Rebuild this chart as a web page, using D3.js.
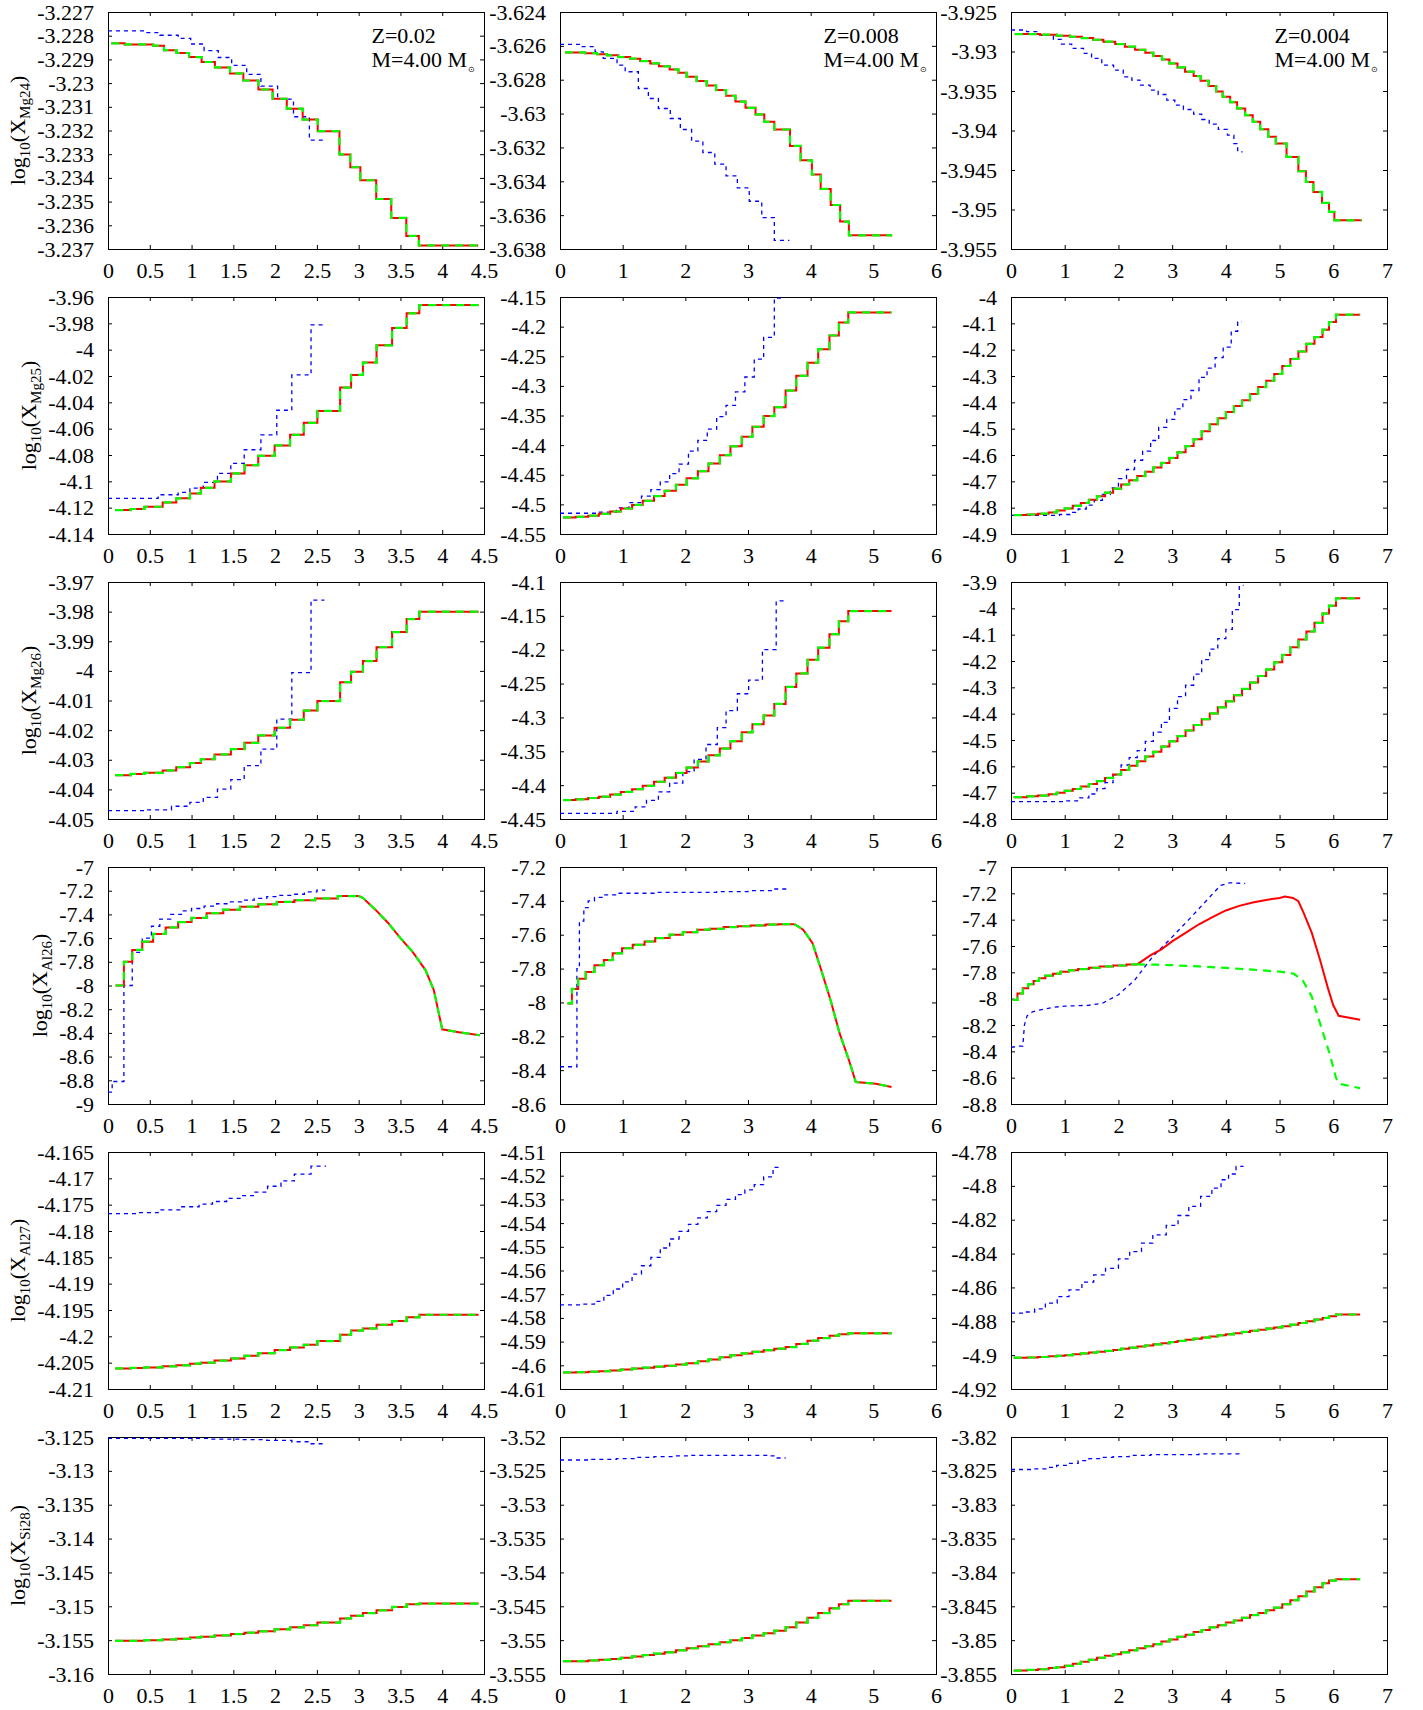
<!DOCTYPE html>
<html>
<head>
<meta charset="utf-8">
<script src="https://d3js.org/d3.v7.min.js"></script>
<style>
body { margin: 0; background: #fff; }
svg { display: block; background: #fff; }
</style>
</head>
<body>
<svg id="chart" width="1423" height="1710"></svg>
<script>
var FONT = "'Liberation Serif', 'Times New Roman', serif";

// ---- axis ticks ----
var xTicksZ02 = [0, 0.5, 1, 1.5, 2, 2.5, 3, 3.5, 4, 4.5];
var xTicksZ008 = [0, 1, 2, 3, 4, 5, 6];
var xTicksZ004 = [0, 1, 2, 3, 4, 5, 6, 7];

var yMg24Z02 = [-3.237, -3.236, -3.235, -3.234, -3.233, -3.232, -3.231, -3.23, -3.229, -3.228, -3.227];
var yMg24Z008 = [-3.638, -3.636, -3.634, -3.632, -3.63, -3.628, -3.626, -3.624];
var yMg24Z004 = [-3.955, -3.95, -3.945, -3.94, -3.935, -3.93, -3.925];
var yMg25Z02 = [-4.14, -4.12, -4.1, -4.08, -4.06, -4.04, -4.02, -4, -3.98, -3.96];
var yMg25Z008 = [-4.55, -4.5, -4.45, -4.4, -4.35, -4.3, -4.25, -4.2, -4.15];
var yMg25Z004 = [-4.9, -4.8, -4.7, -4.6, -4.5, -4.4, -4.3, -4.2, -4.1, -4];
var yMg26Z02 = [-4.05, -4.04, -4.03, -4.02, -4.01, -4, -3.99, -3.98, -3.97];
var yMg26Z008 = [-4.45, -4.4, -4.35, -4.3, -4.25, -4.2, -4.15, -4.1];
var yMg26Z004 = [-4.8, -4.7, -4.6, -4.5, -4.4, -4.3, -4.2, -4.1, -4, -3.9];
var yAl26Z02 = [-9, -8.8, -8.6, -8.4, -8.2, -8, -7.8, -7.6, -7.4, -7.2, -7];
var yAl26Z008 = [-8.6, -8.4, -8.2, -8, -7.8, -7.6, -7.4, -7.2];
var yAl26Z004 = [-8.8, -8.6, -8.4, -8.2, -8, -7.8, -7.6, -7.4, -7.2, -7];
var yAl27Z02 = [-4.21, -4.205, -4.2, -4.195, -4.19, -4.185, -4.18, -4.175, -4.17, -4.165];
var yAl27Z008 = [-4.61, -4.6, -4.59, -4.58, -4.57, -4.56, -4.55, -4.54, -4.53, -4.52, -4.51];
var yAl27Z004 = [-4.92, -4.9, -4.88, -4.86, -4.84, -4.82, -4.8, -4.78];
var ySi28Z02 = [-3.16, -3.155, -3.15, -3.145, -3.14, -3.135, -3.13, -3.125];
var ySi28Z008 = [-3.555, -3.55, -3.545, -3.54, -3.535, -3.53, -3.525, -3.52];
var ySi28Z004 = [-3.855, -3.85, -3.845, -3.84, -3.835, -3.83, -3.825, -3.82];

var species = ["Mg24", "Mg25", "Mg26", "Al26", "Al27", "Si28"];
var metallicity = ["Z=0.02", "Z=0.008", "Z=0.004"];
var massLabel = "M=4.00 M";

// ---- step times shared by rows 2,3,5,6 ----
var tZ02 = [0.087, 0.272, 0.436, 0.654, 0.817, 0.981, 1.111, 1.275, 1.471, 1.634, 1.798, 1.994, 2.179, 2.343, 2.506, 2.778, 2.909, 3.051, 3.214, 3.400, 3.574, 3.726];
var endZ02 = 4.435;
var tZ008 = [0.05, 0.25, 0.45, 0.62, 0.8, 0.97, 1.15, 1.32, 1.5, 1.67, 1.85, 2.02, 2.2, 2.37, 2.55, 2.72, 2.9, 3.07, 3.25, 3.42, 3.6, 3.77, 3.95, 4.12, 4.3, 4.45, 4.6];
var endZ008 = 5.29;
var tZ004 = [0.05, 0.3, 0.5, 0.7, 0.85, 1.0, 1.15, 1.3, 1.45, 1.6, 1.75, 1.9, 2.05, 2.2, 2.35, 2.5, 2.65, 2.8, 2.95, 3.1, 3.25, 3.4, 3.55, 3.7, 3.85, 4.0, 4.15, 4.3, 4.45, 4.6, 4.75, 4.9, 5.05, 5.2, 5.35, 5.5, 5.65, 5.8, 5.92, 6.05];
var endZ004 = 6.5;

// ---- Mg24 ----
var mg24Z02Red = [[0.04,-3.22832],[0.20,-3.22837],[0.54,-3.22842],[0.67,-3.22861],[0.82,-3.22873],[0.97,-3.22890],[1.12,-3.22911],[1.28,-3.22934],[1.46,-3.22959],[1.62,-3.22989],[1.80,-3.23027],[1.97,-3.23066],[2.14,-3.23108],[2.33,-3.23154],[2.51,-3.23203],[2.77,-3.23301],[2.90,-3.23355],[3.02,-3.23410],[3.21,-3.23489],[3.39,-3.23569],[3.57,-3.23645],[3.72,-3.23685],[4.43,-3.23685]];
var mg24Z02Blue = [[0,-3.22780],[0.45,-3.22787],[0.62,-3.22798],[0.84,-3.22811],[0.99,-3.22835],[1.15,-3.22863],[1.32,-3.22892],[1.48,-3.22925],[1.66,-3.22963],[1.83,-3.23013],[2.03,-3.23068],[2.22,-3.23142],[2.41,-3.23241],[2.60,-3.23241]];
var mg24Z008Red = [[0.08,-3.62639],[0.40,-3.62643],[0.59,-3.62649],[0.75,-3.62656],[0.93,-3.62666],[1.12,-3.62676],[1.28,-3.62690],[1.44,-3.62704],[1.58,-3.62721],[1.75,-3.62739],[1.89,-3.62759],[2.02,-3.62783],[2.18,-3.62808],[2.34,-3.62834],[2.49,-3.62861],[2.65,-3.62895],[2.80,-3.62929],[2.96,-3.62966],[3.12,-3.63005],[3.26,-3.63049],[3.42,-3.63094],[3.67,-3.63191],[3.84,-3.63276],[4.02,-3.63360],[4.16,-3.63445],[4.32,-3.63540],[4.47,-3.63638],[4.61,-3.63719],[5.30,-3.63719]];
var mg24Z008Blue = [[0,-3.62591],[0.32,-3.62605],[0.56,-3.62635],[0.69,-3.62674],[0.91,-3.62714],[1.04,-3.62753],[1.25,-3.62852],[1.41,-3.62911],[1.57,-3.62970],[1.76,-3.63029],[1.92,-3.63094],[2.10,-3.63163],[2.28,-3.63230],[2.47,-3.63299],[2.65,-3.63368],[2.83,-3.63439],[3.02,-3.63518],[3.22,-3.63615],[3.42,-3.63749],[3.66,-3.63749]];
var mg24Z004Red = [[0.07,-3.92779],[0.54,-3.92787],[0.85,-3.92800],[1.10,-3.92813],[1.32,-3.92830],[1.53,-3.92851],[1.72,-3.92876],[1.94,-3.92906],[2.12,-3.92939],[2.31,-3.92978],[2.50,-3.93016],[2.65,-3.93058],[2.81,-3.93100],[2.95,-3.93151],[3.10,-3.93201],[3.24,-3.93256],[3.40,-3.93311],[3.53,-3.93370],[3.68,-3.93438],[3.82,-3.93506],[3.94,-3.93573],[4.08,-3.93641],[4.21,-3.93721],[4.36,-3.93806],[4.50,-3.93890],[4.64,-3.93983],[4.79,-3.94080],[4.93,-3.94165],[5.13,-3.94334],[5.35,-3.94516],[5.49,-3.94651],[5.63,-3.94778],[5.79,-3.94917],[5.92,-3.95031],[6.02,-3.95137],[6.53,-3.95137]];
var mg24Z004Blue = [[0,-3.92728],[0.29,-3.92749],[0.54,-3.92792],[0.79,-3.92847],[0.94,-3.92906],[1.13,-3.92961],[1.35,-3.93024],[1.50,-3.93087],[1.69,-3.93172],[1.91,-3.93235],[2.09,-3.93320],[2.25,-3.93362],[2.40,-3.93425],[2.59,-3.93489],[2.74,-3.93544],[2.90,-3.93616],[3.05,-3.93679],[3.21,-3.93734],[3.40,-3.93793],[3.55,-3.93861],[3.69,-3.93920],[3.86,-3.93987],[4.03,-3.94059],[4.15,-3.94165],[4.22,-3.94270],[4.31,-3.94270]];

// ---- Mg25 ----
var mg25Z02Red = [-4.1218, -4.1210, -4.1193, -4.1160, -4.1129, -4.1092, -4.1049, -4.1001, -4.0940, -4.0877, -4.0806, -4.0727, -4.0647, -4.0556, -4.0465, -4.0288, -4.0192, -4.0098, -3.9967, -3.9835, -3.9724, -3.9661];
var mg25Z02Blue = [[0,-4.1129],[0.60,-4.1102],[0.84,-4.1084],[0.98,-4.1051],[1.14,-4.1008],[1.31,-4.0940],[1.47,-4.0864],[1.63,-4.0760],[1.83,-4.0647],[2.02,-4.0460],[2.20,-4.0192],[2.43,-3.9812],[2.61,-3.9812]];
var mg25Z008Red = [-4.522, -4.521, -4.519, -4.516, -4.512, -4.507, -4.501, -4.494, -4.486, -4.477, -4.467, -4.456, -4.444, -4.431, -4.417, -4.402, -4.386, -4.369, -4.351, -4.336, -4.308, -4.283, -4.261, -4.238, -4.215, -4.193, -4.176];
var mg25Z008Blue = [[0,-4.515],[0.6,-4.513],[0.9,-4.506],[1.1,-4.497],[1.3,-4.486],[1.45,-4.475],[1.6,-4.462],[1.75,-4.448],[1.9,-4.432],[2.05,-4.410],[2.2,-4.392],[2.35,-4.373],[2.5,-4.352],[2.65,-4.333],[2.8,-4.310],[2.95,-4.285],[3.1,-4.255],[3.25,-4.218],[3.42,-4.152],[3.55,-4.152]];
var mg25Z004Red = [-4.828, -4.826, -4.823, -4.818, -4.811, -4.803, -4.793, -4.782, -4.770, -4.757, -4.743, -4.728, -4.712, -4.696, -4.680, -4.664, -4.647, -4.630, -4.611, -4.590, -4.566, -4.540, -4.510, -4.483, -4.460, -4.437, -4.414, -4.392, -4.368, -4.342, -4.318, -4.292, -4.262, -4.235, -4.207, -4.178, -4.152, -4.124, -4.095, -4.067];
var mg25Z004Blue = [[0,-4.829],[0.9,-4.826],[1.1,-4.818],[1.25,-4.805],[1.4,-4.790],[1.55,-4.772],[1.7,-4.750],[1.85,-4.725],[2.0,-4.690],[2.15,-4.655],[2.3,-4.620],[2.45,-4.585],[2.6,-4.545],[2.75,-4.495],[2.9,-4.465],[3.05,-4.425],[3.2,-4.390],[3.35,-4.355],[3.5,-4.305],[3.65,-4.270],[3.8,-4.230],[3.95,-4.190],[4.1,-4.130],[4.22,-4.095],[4.3,-4.095]];

// ---- Mg26 ----
var mg26Z02Red = [-4.0352, -4.0348, -4.0344, -4.0336, -4.0325, -4.0311, -4.0298, -4.0282, -4.0264, -4.0243, -4.0218, -4.0192, -4.0165, -4.0134, -4.0102, -4.0038, -4.0003, -3.9967, -3.9920, -3.9869, -3.9825, -3.9800];
var mg26Z02Blue = [[0,-4.0472],[0.45,-4.0469],[0.76,-4.0457],[0.98,-4.0444],[1.14,-4.0427],[1.31,-4.0399],[1.47,-4.0367],[1.63,-4.0320],[1.83,-4.0264],[2.02,-4.0163],[2.20,-4.0006],[2.43,-3.9761],[2.59,-3.9761]];
var mg26Z008Red = [-4.422, -4.421, -4.419, -4.417, -4.414, -4.410, -4.406, -4.401, -4.395, -4.389, -4.382, -4.374, -4.365, -4.356, -4.346, -4.335, -4.322, -4.310, -4.297, -4.280, -4.255, -4.235, -4.215, -4.197, -4.177, -4.158, -4.143];
var mg26Z008Blue = [[0,-4.4417],[0.91,-4.4388],[1.20,-4.4320],[1.38,-4.4225],[1.57,-4.4100],[1.75,-4.3970],[1.96,-4.3800],[2.14,-4.3620],[2.33,-4.3400],[2.51,-4.3150],[2.65,-4.2900],[2.83,-4.2650],[3.01,-4.2450],[3.23,-4.2000],[3.45,-4.1280],[3.62,-4.1280]];
var mg26Z004Red = [-4.717, -4.714, -4.711, -4.706, -4.700, -4.693, -4.686, -4.677, -4.667, -4.656, -4.644, -4.631, -4.614, -4.598, -4.581, -4.563, -4.545, -4.525, -4.505, -4.485, -4.464, -4.443, -4.421, -4.399, -4.376, -4.353, -4.330, -4.306, -4.282, -4.257, -4.232, -4.205, -4.177, -4.148, -4.118, -4.088, -4.055, -4.020, -3.990, -3.962];
var mg26Z004Blue = [[0,-4.734],[1.0,-4.731],[1.28,-4.720],[1.45,-4.705],[1.6,-4.685],[1.75,-4.662],[1.9,-4.632],[2.05,-4.595],[2.2,-4.567],[2.35,-4.540],[2.5,-4.505],[2.65,-4.470],[2.8,-4.433],[2.95,-4.380],[3.1,-4.335],[3.25,-4.292],[3.4,-4.250],[3.55,-4.195],[3.7,-4.155],[3.85,-4.115],[4.0,-4.080],[4.12,-4.005],[4.25,-3.913],[4.33,-3.913]];

// ---- Al26 ----
var al26Z02RedSteps = [[0.09,-8.0],[0.19,-7.8],[0.29,-7.70],[0.41,-7.63],[0.54,-7.565],[0.69,-7.51],[0.84,-7.465],[1.00,-7.43],[1.18,-7.39],[1.38,-7.36],[1.58,-7.335],[1.80,-7.315],[2.02,-7.295],[2.23,-7.28],[2.48,-7.265],[2.75,-7.245],[3.0,-7.245]];
var al26Z02RedTail = [[3.0,-7.245],[3.05,-7.26],[3.2,-7.36],[3.35,-7.47],[3.5,-7.6],[3.65,-7.72],[3.8,-7.87],[3.9,-8.04],[4.0,-8.37],[4.2,-8.395],[4.45,-8.42]];
var al26Z02Blue = [[0,-8.9],[0.05,-8.81],[0.19,-8.0],[0.29,-7.72],[0.41,-7.6],[0.52,-7.5],[0.62,-7.44],[0.75,-7.40],[0.88,-7.37],[1.0,-7.35],[1.15,-7.33],[1.3,-7.31],[1.45,-7.295],[1.6,-7.28],[1.75,-7.265],[1.9,-7.25],[2.05,-7.24],[2.2,-7.23],[2.35,-7.21],[2.5,-7.195],[2.6,-7.195]];
var al26Z008RedSteps = [[0.12,-8.006],[0.19,-7.92],[0.29,-7.86],[0.41,-7.82],[0.55,-7.78],[0.70,-7.75],[0.84,-7.71],[0.99,-7.68],[1.16,-7.66],[1.35,-7.64],[1.52,-7.62],[1.75,-7.60],[1.96,-7.585],[2.19,-7.57],[2.39,-7.565],[2.61,-7.555],[2.83,-7.55],[3.04,-7.545],[3.28,-7.54],[3.49,-7.538],[3.74,-7.538]];
var al26Z008RedTail = [[3.74,-7.538],[3.88,-7.57],[4.03,-7.65],[4.17,-7.81],[4.32,-7.99],[4.46,-8.18],[4.61,-8.34],[4.72,-8.47],[5.04,-8.48],[5.29,-8.50]];
var al26Z008Blue = [[0,-8.38],[0.27,-7.80],[0.31,-7.52],[0.38,-7.44],[0.45,-7.40],[0.55,-7.38],[0.7,-7.365],[0.9,-7.355],[1.5,-7.35],[2.5,-7.345],[3.0,-7.34],[3.4,-7.33],[3.62,-7.33]];
var al26Z004RedSteps = [[0.03,-8.01],[0.12,-7.96],[0.22,-7.92],[0.32,-7.89],[0.42,-7.865],[0.52,-7.845],[0.64,-7.825],[0.78,-7.81],[0.92,-7.795],[1.08,-7.785],[1.25,-7.775],[1.45,-7.765],[1.65,-7.755],[1.9,-7.748],[2.15,-7.74],[2.35,-7.74]];
var al26Z004RedTail = [[2.35,-7.74],[2.6,-7.67],[2.8,-7.625],[3.0,-7.565],[3.25,-7.50],[3.5,-7.435],[3.75,-7.38],[4.0,-7.33],[4.25,-7.295],[4.5,-7.27],[4.75,-7.25],[5.0,-7.235],[5.1,-7.225],[5.25,-7.235],[5.35,-7.26],[5.45,-7.35],[5.6,-7.5],[5.75,-7.7],[5.9,-7.92],[6.0,-8.05],[6.1,-8.13],[6.5,-8.16]];
var al26Z004GreenTail = [[2.35,-7.74],[2.7,-7.742],[3.0,-7.746],[3.5,-7.755],[4.0,-7.766],[4.5,-7.78],[5.0,-7.795],[5.26,-7.81],[5.43,-7.86],[5.6,-7.985],[5.77,-8.21],[5.93,-8.415],[6.05,-8.6],[6.1,-8.645],[6.5,-8.68]];
var al26Z004Blue = [[0,-8.37],[0.15,-8.36],[0.22,-8.36],[0.25,-8.2],[0.3,-8.13],[0.4,-8.10],[0.55,-8.085],[0.8,-8.065],[1.0,-8.057],[1.45,-8.05],[1.7,-8.035],[2.0,-7.97],[2.3,-7.86],[2.64,-7.68],[2.98,-7.54],[3.31,-7.40],[3.65,-7.25],[3.9,-7.14],[4.07,-7.12],[4.36,-7.125]];

// ---- Al27 ----
var al27Z02Red = [-4.2061, -4.2060, -4.2059, -4.2057, -4.2055, -4.2052, -4.2050, -4.2046, -4.2042, -4.2037, -4.2032, -4.2026, -4.2021, -4.2016, -4.2009, -4.1997, -4.1989, -4.1985, -4.1978, -4.1971, -4.1964, -4.1959];
var al27Z02Blue = [[0,-4.1767],[0.35,-4.1765],[0.6,-4.1760],[0.87,-4.1754],[1.09,-4.1749],[1.25,-4.1744],[1.42,-4.1738],[1.58,-4.1733],[1.74,-4.1726],[1.91,-4.1715],[2.07,-4.1705],[2.23,-4.1692],[2.43,-4.1677],[2.61,-4.1677]];
var al27Z008Red = [-4.6030, -4.6029, -4.6027, -4.6025, -4.6022, -4.6018, -4.6014, -4.6010, -4.6006, -4.6002, -4.5997, -4.5991, -4.5983, -4.5975, -4.5966, -4.5958, -4.5950, -4.5943, -4.5936, -4.5930, -4.5923, -4.5910, -4.5896, -4.5885, -4.5875, -4.5869, -4.5865];
var al27Z008Blue = [[0,-4.5745],[0.35,-4.5742],[0.55,-4.5730],[0.7,-4.5705],[0.85,-4.5678],[1.0,-4.5648],[1.15,-4.5615],[1.3,-4.5580],[1.45,-4.5545],[1.6,-4.5505],[1.75,-4.5467],[1.9,-4.5435],[2.05,-4.5405],[2.2,-4.5378],[2.35,-4.5352],[2.5,-4.5325],[2.65,-4.5300],[2.8,-4.5280],[2.95,-4.5260],[3.1,-4.5238],[3.25,-4.5205],[3.4,-4.5165],[3.55,-4.5165]];
var al27Z004Red = [-4.9015, -4.9014, -4.9011, -4.9007, -4.9004, -4.9000, -4.8995, -4.8990, -4.8985, -4.8980, -4.8975, -4.8969, -4.8962, -4.8956, -4.8949, -4.8943, -4.8936, -4.8930, -4.8923, -4.8916, -4.8909, -4.8903, -4.8896, -4.8890, -4.8883, -4.8877, -4.8870, -4.8863, -4.8856, -4.8850, -4.8843, -4.8836, -4.8829, -4.8820, -4.8810, -4.8800, -4.8790, -4.8780, -4.8770, -4.8760];
var al27Z004Blue = [[0,-4.8752],[0.25,-4.8745],[0.44,-4.8727],[0.64,-4.8693],[0.86,-4.8654],[1.08,-4.8614],[1.32,-4.8569],[1.54,-4.8526],[1.76,-4.8487],[2.0,-4.8431],[2.21,-4.8388],[2.43,-4.8338],[2.64,-4.8289],[2.89,-4.8234],[3.11,-4.8175],[3.31,-4.8121],[3.53,-4.8062],[3.74,-4.8013],[3.91,-4.7964],[4.05,-4.7930],[4.19,-4.7885],[4.33,-4.7885]];

// ---- Si28 ----
var si28Z02Red = [-3.1551, -3.1551, -3.1550, -3.1549, -3.1548, -3.1546, -3.1545, -3.1543, -3.1541, -3.1539, -3.1537, -3.1534, -3.1531, -3.1528, -3.1524, -3.1518, -3.1514, -3.1510, -3.1506, -3.1501, -3.1497, -3.1496];
var si28Z02Blue = [[0,-3.1252],[0.6,-3.1252],[1.2,-3.1253],[1.6,-3.1254],[1.9,-3.1255],[2.2,-3.1257],[2.43,-3.1260],[2.61,-3.1260]];
var si28Z008Red = [-3.5531, -3.5531, -3.5530, -3.5529, -3.5528, -3.5526, -3.5524, -3.5522, -3.5520, -3.5518, -3.5515, -3.5512, -3.5509, -3.5506, -3.5503, -3.5500, -3.5497, -3.5493, -3.5490, -3.5486, -3.5481, -3.5474, -3.5467, -3.5460, -3.5453, -3.5447, -3.5442];
var si28Z008Blue = [[0,-3.5234],[0.5,-3.5233],[0.9,-3.5232],[1.2,-3.5230],[1.5,-3.5229],[1.8,-3.5228],[2.1,-3.5227],[2.5,-3.5227],[3.0,-3.5227],[3.3,-3.5228],[3.45,-3.5231],[3.6,-3.5231]];
var si28Z004Red = [-3.8545, -3.8544, -3.8543, -3.8541, -3.8540, -3.8538, -3.8535, -3.8532, -3.8529, -3.8526, -3.8523, -3.8521, -3.8518, -3.8515, -3.8512, -3.8509, -3.8506, -3.8502, -3.8499, -3.8495, -3.8492, -3.8488, -3.8485, -3.8481, -3.8478, -3.8474, -3.8471, -3.8467, -3.8463, -3.8460, -3.8456, -3.8452, -3.8447, -3.8441, -3.8435, -3.8428, -3.8422, -3.8416, -3.8412, -3.8410];
var si28Z004Blue = [[0,-3.8248],[0.4,-3.8247],[0.65,-3.8245],[0.85,-3.8242],[1.05,-3.8239],[1.25,-3.8235],[1.45,-3.8232],[1.65,-3.8230],[1.9,-3.8229],[2.2,-3.8227],[2.6,-3.8226],[3.0,-3.8226],[3.5,-3.8225],[4.0,-3.8225],[4.3,-3.8225]];

// ---- layout ----
var svg = d3.select("#chart");
var colX = [108, 560, 1011];
var rowY = [12, 297, 582, 867, 1152, 1437];
var PW = 376, PH = 237;
var xTicks = [xTicksZ02, xTicksZ008, xTicksZ004];

var BLUE = { color: "#0000ff", width: 1.3, dash: "4,4" };
var RED = { color: "#ff0000", width: 2, dash: null };
var GREEN = { color: "#00ff00", width: 2.2, dash: "8,6" };

function steps(t, v, end) {
    var p = t.map(function(x, i) { return [x, v[i]]; });
    p.push([end, v[v.length - 1]]);
    return p;
}
function s(pts, style, curve) {
    return { pts: pts, style: style, curve: curve || "step" };
}
function trio(red, blue) {
    return [s(blue, BLUE), s(red, RED), s(red, GREEN)];
}

var panels = [
    { row: 0, col: 0, yTicks: yMg24Z02, lines: trio(mg24Z02Red, mg24Z02Blue) },
    { row: 0, col: 1, yTicks: yMg24Z008, lines: trio(mg24Z008Red, mg24Z008Blue) },
    { row: 0, col: 2, yTicks: yMg24Z004, lines: trio(mg24Z004Red, mg24Z004Blue) },
    { row: 1, col: 0, yTicks: yMg25Z02, lines: trio(steps(tZ02, mg25Z02Red, endZ02), mg25Z02Blue) },
    { row: 1, col: 1, yTicks: yMg25Z008, lines: trio(steps(tZ008, mg25Z008Red, endZ008), mg25Z008Blue) },
    { row: 1, col: 2, yTicks: yMg25Z004, lines: trio(steps(tZ004, mg25Z004Red, endZ004), mg25Z004Blue) },
    { row: 2, col: 0, yTicks: yMg26Z02, lines: trio(steps(tZ02, mg26Z02Red, endZ02), mg26Z02Blue) },
    { row: 2, col: 1, yTicks: yMg26Z008, lines: trio(steps(tZ008, mg26Z008Red, endZ008), mg26Z008Blue) },
    { row: 2, col: 2, yTicks: yMg26Z004, lines: trio(steps(tZ004, mg26Z004Red, endZ004), mg26Z004Blue) },
    { row: 3, col: 0, yTicks: yAl26Z02, lines: [s(al26Z02Blue, BLUE),
        s(al26Z02RedSteps, RED), s(al26Z02RedTail, RED, "linear"),
        s(al26Z02RedSteps, GREEN), s(al26Z02RedTail, GREEN, "linear")] },
    { row: 3, col: 1, yTicks: yAl26Z008, lines: [s(al26Z008Blue, BLUE),
        s(al26Z008RedSteps, RED), s(al26Z008RedTail, RED, "linear"),
        s(al26Z008RedSteps, GREEN), s(al26Z008RedTail, GREEN, "linear")] },
    { row: 3, col: 2, yTicks: yAl26Z004, lines: [s(al26Z004Blue, BLUE, "linear"),
        s(al26Z004RedSteps, RED), s(al26Z004RedTail, RED, "linear"),
        s(al26Z004RedSteps, GREEN), s(al26Z004GreenTail, GREEN, "linear")] },
    { row: 4, col: 0, yTicks: yAl27Z02, lines: trio(steps(tZ02, al27Z02Red, endZ02), al27Z02Blue) },
    { row: 4, col: 1, yTicks: yAl27Z008, lines: trio(steps(tZ008, al27Z008Red, endZ008), al27Z008Blue) },
    { row: 4, col: 2, yTicks: yAl27Z004, lines: trio(steps(tZ004, al27Z004Red, endZ004), al27Z004Blue) },
    { row: 5, col: 0, yTicks: ySi28Z02, lines: trio(steps(tZ02, si28Z02Red, endZ02), si28Z02Blue) },
    { row: 5, col: 1, yTicks: ySi28Z008, lines: trio(steps(tZ008, si28Z008Red, endZ008), si28Z008Blue) },
    { row: 5, col: 2, yTicks: ySi28Z004, lines: trio(steps(tZ004, si28Z004Red, endZ004), si28Z004Blue) }
];

panels.forEach(draw);

function draw(p) {
    var g = svg.append("g")
        .attr("transform", "translate(" + colX[p.col] + "," + rowY[p.row] + ")");
    var xt = xTicks[p.col];
    var x = d3.scaleLinear().domain([0, d3.max(xt)]).range([0, PW]);
    var y = d3.scaleLinear().domain(d3.extent(p.yTicks)).range([PH, 0]);
    var fmt = function(d) { return String(d); };

    g.append("g")
        .attr("transform", "translate(0," + PH + ")")
        .call(d3.axisBottom(x).tickValues(xt).tickSize(-4).tickPadding(13.5).tickFormat(fmt));
    g.append("g")
        .call(d3.axisTop(x).tickValues(xt).tickSize(-4).tickFormat(""));
    var left = g.append("g")
        .call(d3.axisLeft(y).tickValues(p.yTicks).tickSize(-4).tickPadding(14).tickFormat(fmt));
    g.append("g")
        .attr("transform", "translate(" + PW + ",0)")
        .call(d3.axisRight(y).tickValues(p.yTicks).tickSize(-4).tickFormat(""));

    g.selectAll(".domain").remove();
    g.selectAll(".tick line").attr("stroke", "#000");
    g.selectAll(".tick text")
        .attr("font-family", FONT)
        .attr("font-size", 22)
        .attr("fill", "#000");

    g.append("rect")
        .attr("x", 0.5).attr("y", 0.5)
        .attr("width", PW).attr("height", PH)
        .attr("fill", "none")
        .attr("stroke", "#000")
        .attr("stroke-width", 1);

    p.lines.forEach(function(ln) {
        var line = d3.line()
            .x(function(d) { return x(d[0]); })
            .y(function(d) { return y(d[1]); })
            .curve(ln.curve === "step" ? d3.curveStepAfter : d3.curveLinear);
        g.append("path")
            .datum(ln.pts)
            .attr("fill", "none")
            .attr("stroke", ln.style.color)
            .attr("stroke-width", ln.style.width)
            .attr("stroke-dasharray", ln.style.dash)
            .attr("d", line);
    });

    // y label on the left column
    if (p.col === 0) {
        var maxW = d3.max(left.selectAll(".tick text").nodes(), function(n) {
            return n.getComputedTextLength();
        });
        var lx = -14 - maxW - 12.5;
        var t = g.append("text")
            .attr("transform", "translate(" + lx + "," + (PH / 2) + ") rotate(-90)")
            .attr("text-anchor", "middle")
            .attr("font-family", FONT)
            .attr("font-size", 22)
            .attr("fill", "#000");
        t.append("tspan").text("log");
        t.append("tspan").attr("font-size", 15).attr("dy", 5).text("10");
        t.append("tspan").attr("dy", -5).text("(X");
        t.append("tspan").attr("font-size", 15).attr("dy", 5).text(species[p.row]);
        t.append("tspan").attr("dy", -5).text(")");
    }

    // metallicity / mass annotation on the top row
    if (p.row === 0) {
        g.append("text")
            .attr("x", PW - 112.5).attr("y", 30.7)
            .attr("font-family", FONT).attr("font-size", 22).attr("fill", "#000")
            .text(metallicity[p.col]);
        var m = g.append("text")
            .attr("x", PW - 112.5).attr("y", 54.7)
            .attr("font-family", FONT).attr("font-size", 22).attr("fill", "#000");
        m.append("tspan").text(massLabel);
        m.append("tspan").attr("font-size", 8).attr("dy", 5.5).attr("dx", 1).text("\u2299");
    }
}
</script>
</body>
</html>
